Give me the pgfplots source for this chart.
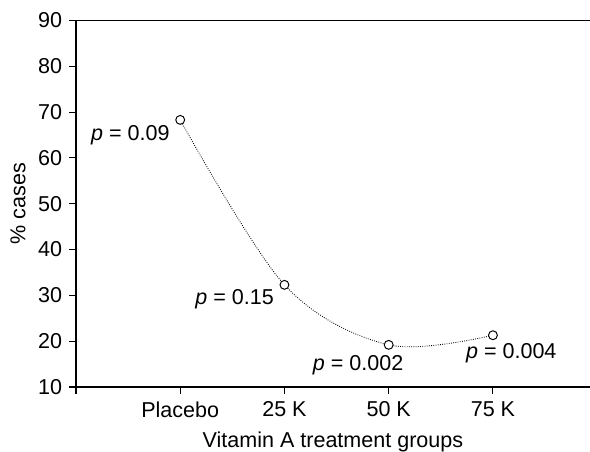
\documentclass[border=0pt]{standalone}
\usepackage{fontspec}
\setmainfont{Liberation Sans}
\usepackage{pgfplots}
\pgfplotsset{compat=1.18}
\newcommand{\fs}{\fontsize{15.5}{18}\selectfont}
\begin{document}
\begin{tikzpicture}
\path[use as bounding box] (0,0) rectangle (424.8pt,325.44pt);
\begin{axis}[
  at={(54.7pt,46.8pt)}, anchor=south west,
  scale only axis, width=370pt, height=263.9pt,
  xmin=0, xmax=4.93, ymin=10, ymax=90,
  axis x line*=bottom, axis y line*=left,
  axis line style={line width=1pt, -},
  xtick={0,1,2,3,4}, xticklabels={,Placebo,25 K,50 K,75 K},
  ytick={10,20,...,90},
  tick align=outside, major tick length=5pt,
  tick style={line width=0.8pt, black},
  /pgf/number format/assume math mode=true,
  ticklabel style={font=\fs},
  xticklabel style={yshift=-2pt},
  yticklabel style={xshift=-1.5pt},
  label style={font=\fs},
  xlabel={Vitamin A treatment groups},
  ylabel={\% cases},
  xlabel style={at={(axis description cs:0.5,-0.15)}, anchor=center},
  ylabel style={at={(axis description cs:-0.113,0.5)}, anchor=center},
  clip=false,
]
\draw[line width=1pt] (rel axis cs:0,1) -- (rel axis cs:1,1);
\addplot[smooth, tension=0.55, densely dotted, line width=0.6pt, black] coordinates {(1,68.3) (2,32.3) (3,19.2) (4,21.3)};
\addplot[only marks, mark=*, mark size=3.2pt, mark options={fill=white, draw=black, line width=0.7pt}] coordinates {(1,68.3) (2,32.3) (3,19.2) (4,21.3)};
\node[anchor=base east, font=\fs, inner sep=0pt] at (axis cs:0.90,63.9) {\textit{p} = 0.09};
\node[anchor=base east, font=\fs, inner sep=0pt] at (axis cs:1.90,27.9) {\textit{p} = 0.15};
\node[anchor=base west, font=\fs, inner sep=0pt] at (axis cs:2.27,13.7) {\textit{p} = 0.002};
\node[anchor=base west, font=\fs, inner sep=0pt] at (axis cs:3.74,16.3) {\textit{p} = 0.004};
\end{axis}
\end{tikzpicture}
\end{document}
